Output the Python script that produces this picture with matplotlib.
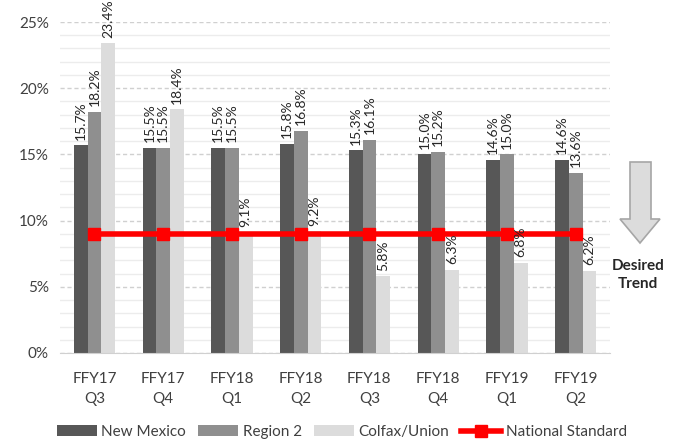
import numpy as np
import matplotlib.pyplot as plt
from matplotlib.patches import Polygon
from matplotlib.ticker import MultipleLocator, FuncFormatter

plt.rcParams['font.family'] = ['Lato', 'DejaVu Sans']

quarters = ['FFY17\nQ3', 'FFY17\nQ4', 'FFY18\nQ1', 'FFY18\nQ2',
            'FFY18\nQ3', 'FFY18\nQ4', 'FFY19\nQ1', 'FFY19\nQ2']
new_mexico = [15.7, 15.5, 15.5, 15.8, 15.3, 15.0, 14.6, 14.6]
region2 = [18.2, 15.5, 15.5, 16.8, 16.1, 15.2, 15.0, 13.6]
colfax_union = [23.4, 18.4, 9.1, 9.2, 5.8, 6.3, 6.8, 6.2]
national_standard = [9.0] * 8

W, H = 684, 442
fig = plt.figure(figsize=(W / 100, H / 100), dpi=100)
ax = fig.add_axes([60 / W, 1 - 353 / H, 550 / W, 331 / H])

x = np.arange(len(quarters))
bw = 0.2
series = [
    ('New Mexico', new_mexico, '#575757'),
    ('Region 2', region2, '#8f8f8f'),
    ('Colfax/Union', colfax_union, '#dcdcdc'),
]
handles = []
for i, (name, vals, col) in enumerate(series):
    bars = ax.bar(x + (i - 1) * bw, vals, bw, color=col, label=name, zorder=2)
    handles.append(bars)
    for b, v in zip(bars, vals):
        ax.annotate(f'{v:.1f}%', xy=(b.get_x() + b.get_width() / 2, v),
                    xytext=(0, 4), textcoords='offset points', rotation=90,
                    ha='center', va='bottom', fontsize=10, color='#262626', zorder=4)

line, = ax.plot(x, national_standard, color='#ff0000', lw=4, marker='s', markersize=9,
                label='National Standard', zorder=3)
handles.append(line)

ax.set_xlim(-0.5, len(quarters) - 0.5)
ax.set_ylim(0, 25)
ax.yaxis.set_major_locator(MultipleLocator(5))
ax.yaxis.set_minor_locator(MultipleLocator(1))
ax.yaxis.set_major_formatter(FuncFormatter(lambda v, p: f'{v:.0f}%'))
ax.grid(axis='y', which='minor', color='#ececec', lw=1, zorder=0)
ax.grid(axis='y', which='major', color='#d0d0d0', lw=1, ls=(0, (3, 2)), zorder=0)
ax.set_axisbelow(True)
ax.set_xticks(x)
ax.set_xticklabels(quarters, linespacing=1.5)
ax.tick_params(axis='both', which='both', length=0, labelsize=11, colors='#404040')
ax.tick_params(axis='x', pad=14)
ax.tick_params(axis='y', pad=8)
for s in ['top', 'right', 'left']:
    ax.spines[s].set_visible(False)
ax.spines['bottom'].set_color('#d0d0d0')

# desired trend arrow (pixel coords -> figure fraction)
pts = [(630, 162), (651, 162), (651, 219), (660, 219), (640, 243),
       (620, 219), (630, 219)]
arrow = Polygon([(px / W, 1 - py / H) for px, py in pts], closed=True,
                transform=fig.transFigure, facecolor='#dcdcdc',
                edgecolor='#a6a6a6', lw=1.2)
fig.patches.append(arrow)
fig.text(638 / W, 1 - 275 / H, 'Desired\nTrend', ha='center', va='center',
         fontsize=11, fontweight='bold', color='#262626', linespacing=1.3)

fig.legend(handles=handles, labels=[s[0] for s in series] + ['National Standard'],
           loc='center', bbox_to_anchor=(0.5, 1 - 432 / H), ncol=4,
           frameon=False, fontsize=11, handlelength=2.6, handletextpad=0.3,
           columnspacing=0.8, labelcolor='#404040')

fig.savefig('out.png', dpi=100)
